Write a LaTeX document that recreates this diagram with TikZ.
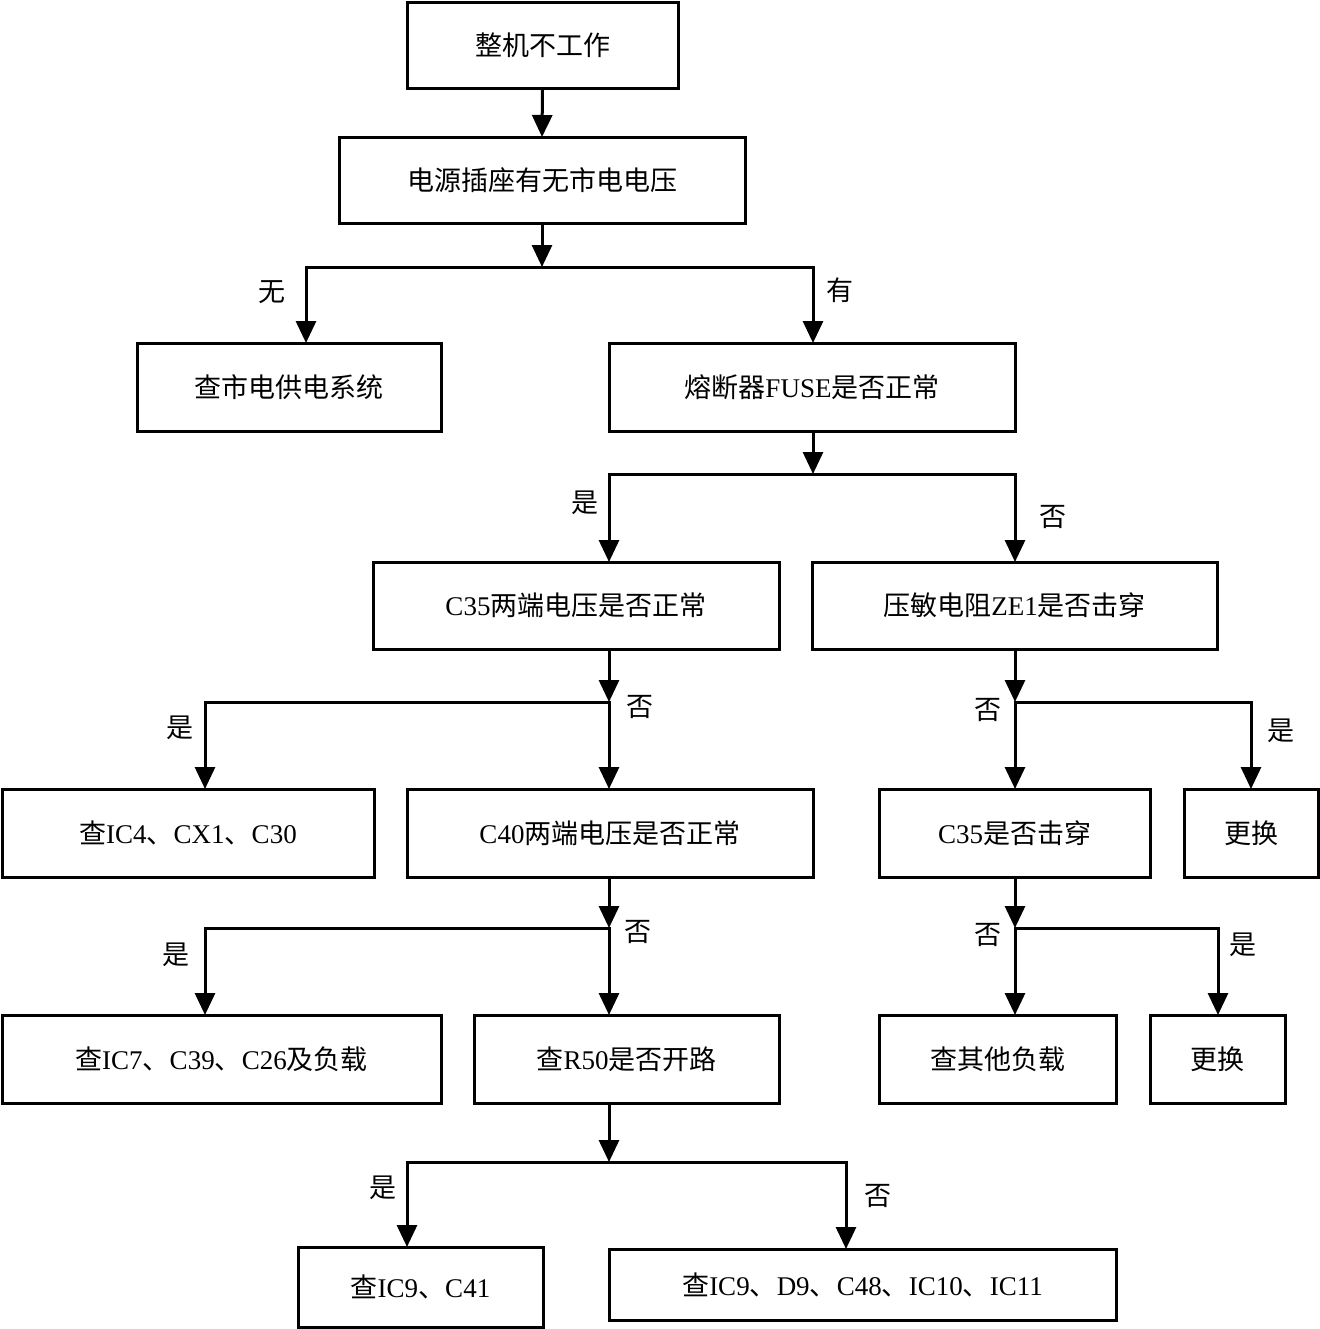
\documentclass[tikz,border=0pt]{standalone}
\usepackage{fontspec}
\setmainfont{Liberation Serif}
\newfontfamily\cjk{Noto Sans CJK SC}
\newcommand\latn[1]{{\rmfamily #1}}
\usetikzlibrary{arrows.meta}
\begin{document}
\begin{tikzpicture}[x=0.5pt,y=-0.5pt,
  box/.style={draw,line width=1.5pt,inner sep=0pt,outer sep=0pt,font=\cjk\fontsize{13.5}{16}\selectfont},
  lbl/.style={inner sep=0pt,font=\cjk\fontsize{13.5}{16}\selectfont},
  ln/.style={line width=1.5pt,line cap=rect},
  arr/.style={line width=1.5pt,-{Triangle[length=11pt,width=10pt]}}]
\useasboundingbox (0,0) rectangle (1320,1329);
% boxes
\node[box,minimum width=135.5pt,minimum height=43pt] (b1) at (542.5,45) {整机不工作};
\node[box,minimum width=203pt,minimum height=43pt] (b2) at (542,180) {电源插座有无市电电压};
\node[box,minimum width=152pt,minimum height=44pt] (b3) at (289,387) {查市电供电系统};
\node[box,minimum width=203pt,minimum height=44pt] (b4) at (812,387) {熔断器\latn{FUSE}是否正常};
\node[box,minimum width=203pt,minimum height=43.5pt] (b5) at (576,605.5) {\latn{C35}两端电压是否正常};
\node[box,minimum width=202.5pt,minimum height=43.5pt] (b6) at (1014.5,605.5) {压敏电阻\latn{ZE1}是否击穿};
\node[box,minimum width=186pt,minimum height=44pt] (b7) at (188,833) {查\latn{IC4}、\latn{CX1}、\latn{C30}};
\node[box,minimum width=203pt,minimum height=44pt] (b8) at (610,833) {\latn{C40}两端电压是否正常};
\node[box,minimum width=135.5pt,minimum height=44pt] (b9) at (1014.5,833) {\latn{C35}是否击穿};
\node[box,minimum width=67pt,minimum height=44pt] (b10) at (1251,833) {更换};
\node[box,minimum width=219.5pt,minimum height=44pt] (b11) at (221.5,1059) {查\latn{IC7}、\latn{C39}、\latn{C26}及负载};
\node[box,minimum width=152.5pt,minimum height=44pt] (b12) at (626.5,1059) {查\latn{R50}是否开路};
\node[box,minimum width=118.5pt,minimum height=44pt] (b13) at (997.5,1059) {查其他负载};
\node[box,minimum width=67.5pt,minimum height=44pt] (b14) at (1217.5,1059) {更换};
\node[box,minimum width=122.5pt,minimum height=40pt] (b15) at (420.5,1287) {查\latn{IC9}、\latn{C41}};
\node[box,minimum width=253.5pt,minimum height=35.5pt] (b16) at (862.5,1284.5) {查\latn{IC9}、\latn{D9}、\latn{C48}、\latn{IC10}、\latn{IC11}};
% junction coordinates
\coordinate (j1) at (542,267); \coordinate (j1L) at (306,267); \coordinate (j1R) at (813,267);
\coordinate (j2) at (813,474); \coordinate (j2L) at (609,474); \coordinate (j2R) at (1015,474);
\coordinate (j3) at (609,702); \coordinate (j3L) at (205,702);
\coordinate (j4) at (1015,702); \coordinate (j4R) at (1251,702);
\coordinate (j5) at (609,928); \coordinate (j5L) at (205,928);
\coordinate (j6) at (1015,928); \coordinate (j6R) at (1218,928);
\coordinate (j7) at (609,1162); \coordinate (j7L) at (407,1162); \coordinate (j7R) at (846,1162);
% connectors
\draw[arr] (b1.south) -- (b2.north);
\draw[arr] (b2.south) -- (j1);
\draw[ln] (j1L) -- (j1R);
\draw[arr] (j1L) -- (j1L |- b3.north);
\draw[arr] (j1R) -- (j1R |- b4.north);
\draw[arr] (b4.south -| j2) -- (j2);
\draw[ln] (j2L) -- (j2R);
\draw[arr] (j2L) -- (j2L |- b5.north);
\draw[arr] (j2R) -- (j2R |- b6.north);
\draw[arr] (b5.south -| j3) -- (j3);
\draw[ln] (j3L) -- (j3);
\draw[arr] (j3) -- (j3 |- b8.north);
\draw[arr] (j3L) -- (j3L |- b7.north);
\draw[arr] (b6.south -| j4) -- (j4);
\draw[ln] (j4) -- (j4R);
\draw[arr] (j4) -- (j4 |- b9.north);
\draw[arr] (j4R) -- (j4R |- b10.north);
\draw[arr] (b8.south -| j5) -- (j5);
\draw[ln] (j5L) -- (j5);
\draw[arr] (j5) -- (j5 |- b12.north);
\draw[arr] (j5L) -- (j5L |- b11.north);
\draw[arr] (b9.south -| j6) -- (j6);
\draw[ln] (j6) -- (j6R);
\draw[arr] (j6) -- (j6 |- b13.north);
\draw[arr] (j6R) -- (j6R |- b14.north);
\draw[arr] (b12.south -| j7) -- (j7);
\draw[ln] (j7L) -- (j7R);
\draw[arr] (j7L) -- (j7L |- b15.north);
\draw[arr] (j7R) -- (j7R |- b16.north);
% labels
\node[lbl] (l1) at (272,292) {无};
\node[lbl] (l2) at (840,290) {有};
\node[lbl] (l3) at (585,503) {是};
\node[lbl] (l4) at (1053,517) {否};
\node[lbl] (l5) at (640,707) {否};
\node[lbl] (l6) at (180,728) {是};
\node[lbl] (l7) at (988,710) {否};
\node[lbl] (l8) at (1281,731) {是};
\node[lbl] (l9) at (638,932) {否};
\node[lbl] (l10) at (176,955) {是};
\node[lbl] (l11) at (988,935) {否};
\node[lbl] (l12) at (1243,945) {是};
\node[lbl] (l13) at (383,1188) {是};
\node[lbl] (l14) at (878,1196) {否};
\end{tikzpicture}
\end{document}
